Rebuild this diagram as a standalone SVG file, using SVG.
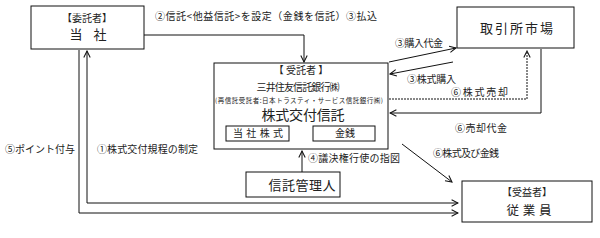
<svg xmlns="http://www.w3.org/2000/svg" width="600" height="238" viewBox="0 0 600 238">
<defs>
<marker id="ah" viewBox="0 0 10 10" refX="9" refY="5" markerWidth="8" markerHeight="8" orient="auto" markerUnits="userSpaceOnUse">
<path d="M1,1 L9,5 L1,9" fill="none" stroke="#111" stroke-width="1.3"/>
</marker>
</defs>
<style>
text{font-family:"Noto Sans CJK JP","Noto Sans",sans-serif;fill:#222}
.box{fill:#fff;stroke:#111;stroke-width:1}
.ln{fill:none;stroke:#111;stroke-width:1}
.dash{fill:none;stroke:#111;stroke-width:1;stroke-dasharray:2,1}
.s10{font-size:10px}
.s13{font-size:13px}
.m{text-anchor:middle}
</style>
<rect width="600" height="238" fill="#fff"/>
<g id="connectors">
<path class="ln" d="M144,35 H304 V62" marker-end="url(#ah)"/>
<path class="ln" d="M389,62 L456,48" marker-end="url(#ah)"/>
<path class="ln" d="M453,62 L390,74" marker-end="url(#ah)"/>
<path class="dash" d="M389,99 H527 V51" marker-end="url(#ah)"/>
<path class="ln" d="M541,49 V113 H390" marker-end="url(#ah)"/>
<path class="ln" d="M402,144 L452,182" marker-end="url(#ah)"/>
<path class="ln" d="M302,172 V151" marker-end="url(#ah)"/>
<path class="ln" d="M79,50 V213 H458" marker-end="url(#ah)" stroke="#444"/>
<path class="ln" d="M87,203 H458" marker-end="url(#ah)"/>
<path class="ln" d="M87,203 V51" marker-end="url(#ah)"/>
<text class="s10" x="155" y="20" textLength="222">②信託&lt;他益信託&gt;を設定（金銭を信託）③払込</text>
<text class="s10" x="395" y="47" textLength="48">③購入代金</text>
<text class="s10" x="407" y="83" textLength="49">③株式購入</text>
<text class="s10" x="451" y="96" textLength="57">⑥株式売却</text>
<text class="s10" x="455" y="132" textLength="52">⑥売却代金</text>
<text class="s10" x="433" y="157" textLength="66">⑥株式及び金銭</text>
<text class="s10" x="308" y="162" textLength="92">④議決権行使の指図</text>
<text class="s10" x="5" y="153" textLength="70">⑤ポイント付与</text>
<text class="s10" x="97" y="153" textLength="101">①株式交付規程の制定</text>
</g>
<g id="itaku">
<rect class="box" x="31" y="6" width="113" height="43"/>
<text class="s10 m" x="87" y="22">【委託者】</text>
<text class="s13 m" x="88" y="39" textLength="37">当　社</text>
</g>
<g id="market">
<rect class="box" x="457" y="7" width="117" height="41"/>
<text class="s13" x="480" y="33" textLength="73">取引所市場</text>
</g>
<g id="jutaku">
<rect class="box" x="214" y="63" width="174" height="86"/>
<text class="s10 m" x="301" y="74">【 受託者 】</text>
<text class="s10 m" x="298" y="91" textLength="83">三井住友信託銀行㈱</text>
<text class="m" x="299" y="103" font-size="6.5" textLength="168">(再信託受託者:日本トラスティ・サービス信託銀行㈱)</text>
<text class="m" x="303" y="120" font-size="14" textLength="83">株式交付信託</text>
<rect class="box" x="226" y="126" width="63" height="15"/>
<text class="s10 m" x="258" y="137" textLength="50">当社株式</text>
<rect class="box" x="313" y="126" width="62" height="15"/>
<text class="s10 m" x="345" y="137">金銭</text>
</g>
<g id="kanri">
<rect class="box" x="246" y="172" width="94" height="25"/>
<text class="s13 m" x="302" y="190" textLength="67">信託管理人</text>
</g>
<g id="jueki">
<rect class="box" x="462" y="181" width="130" height="41"/>
<text class="s10 m" x="527" y="196">【受益者】</text>
<text class="m" x="529" y="215" font-size="12.5" textLength="45">従業員</text>
</g>
</svg>
